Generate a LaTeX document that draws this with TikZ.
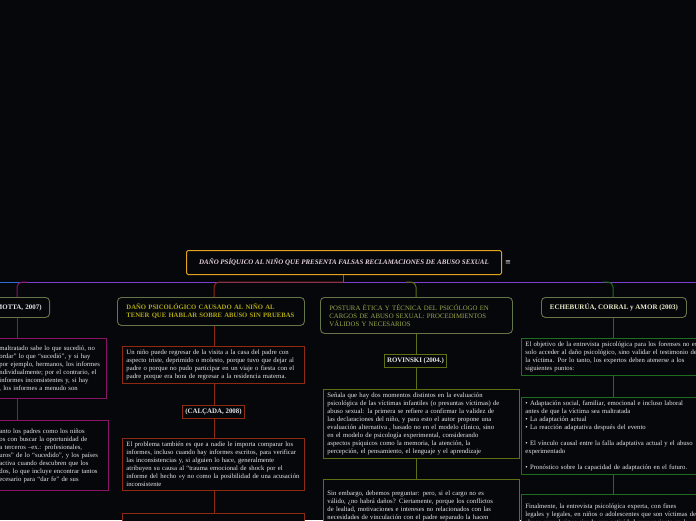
\documentclass[tikz,border=0pt]{standalone}
\usepackage{fontspec}
\setmainfont{Liberation Serif}
\newfontfamily\symfont{DejaVu Sans}
\usetikzlibrary{positioning}

\definecolor{bgc}{HTML}{05070B}
\definecolor{goldc}{HTML}{E0A41C}
\definecolor{violc}{HTML}{7B3FD0}
\definecolor{bluec}{HTML}{2F6BD8}
\definecolor{redc}{HTML}{8E2A12}
\definecolor{magc}{HTML}{8A1466}
\definecolor{olivc}{HTML}{5E6E12}
\definecolor{grnc}{HTML}{1F6E1F}
\definecolor{boxc}{HTML}{66744A}
\definecolor{txtc}{HTML}{E8E6E6}
\definecolor{titc}{HTML}{E6D2DC}

\begin{document}
\begin{tikzpicture}[
  x=1pt,y=-1pt,
  leaf/.style={draw,fill=bgc,line width=0.9pt,anchor=north west,align=left,
    inner xsep=4pt,inner ysep=3.4pt,text=txtc,font=\fontsize{6.7}{8}\selectfont},
  topic/.style={draw=boxc,fill=bgc,rounded corners=4pt,line width=0.9pt,
    anchor=north west,inner ysep=3pt,font=\fontsize{6.8}{8}\selectfont},
  tag/.style={draw,fill=bgc,line width=0.9pt,inner xsep=3pt,inner ysep=0pt,
    minimum height=13pt,text=txtc,font=\bfseries\fontsize{6.9}{7}\selectfont},
  link/.style={line width=0.9pt},
  hub/.style={line width=1pt,rounded corners=5pt}
]
\useasboundingbox (0,0) rectangle (696,520);
\clip (0,0) rectangle (696,520);
\fill[bgc] (0,0) rectangle (696,520);

% ---- column axes ----
\coordinate (cm) at (17,282);
\coordinate (cr) at (214,282);
\coordinate (co) at (416,282);
\coordinate (cg) at (613,282);

% ---- central idea ----
\node[draw=goldc,fill=bgc,line width=1pt,rounded corners=1.5pt,anchor=north west,
      minimum width=315pt,minimum height=24pt,text=titc,
      font=\bfseries\itshape\fontsize{6.9}{8}\selectfont] (root) at (186,250)
  {DAÑO PSÍQUICO AL NIÑO QUE PRESENTA FALSAS RECLAMACIONES DE ABUSO SEXUAL};
\node[text=txtc,font=\symfont\fontsize{7}{7}\selectfont,inner sep=1pt,right=2pt of root] (menu) {≡};

% ---- main line ----
\draw[link,draw=violc] (22,282) -- (696,282);
\draw[link,draw=bluec] (0,282) -- (22,282);
\draw[link,draw=violc] (root.south -| 343,0) -- (343,282);

% ---- branch titles ----
\node[topic,anchor=north east,text width=62pt,align=right,inner xsep=8pt,
      minimum height=20pt,text=txtc,font=\bfseries\fontsize{6.9}{8}\selectfont] (motta) at (50,297)
  {(MOTTA, 2007)};
\node[topic,text width=175pt,inner xsep=6pt,minimum height=28pt,align=left,
      text=olive!75!yellow!90!white,font=\bfseries\fontsize{6.7}{8}\selectfont] (dano) at (117,297)
  {\mbox{\hspace{3pt}DAÑO PSICOLÓGICO CAUSADO AL NIÑO AL}\\
   \mbox{\hspace{3pt}TENER QUE HABLAR SOBRE ABUSO SIN PRUEBAS}};
\node[topic,text width=174pt,inner xsep=9pt,minimum height=36pt,align=left,
      text=boxc!70!yellow!90!white] (postura) at (320,297)
  {POSTURA ÉTICA Y TÉCNICA DEL PSICÓLOGO EN\\CARGOS DE ABUSO SEXUAL: PROCEDIMIENTOS\\VÁLIDOS Y NECESARIOS};
\node[topic,minimum width=145pt,minimum height=20pt,align=center,
      text=txtc!85!yellow,font=\bfseries\fontsize{7}{8}\selectfont] (eche) at (541,297)
  {ECHEBURÚA, CORRAL y AMOR (2003)};

% ---- branch curves ----
\draw[hub,draw=redc] (343,282) -| (dano.north -| cr);
\draw[hub,draw=magc] (27,282) -| (motta.north -| cm);
\draw[hub,draw=olivc] (406,282) -| (postura.north -| co);
\draw[hub,draw=grnc] (603,282) -| (eche.north -| cg);

% ---- left column ----
\node[leaf,draw=magc,text width=104pt,minimum height=60pt,inner xsep=3pt] (lm1) at (-4,338)
  {maltratado sabe lo que sucedió, no\\
   ordar” lo que “sucedió”, y si hay\\
   por ejemplo, hermanos, los informes\\
   ndividualmente; por el contrario, el\\
   informes inconsistentes y, si hay\\
   , los informes a menudo son};
\node[leaf,draw=magc,text width=106pt,minimum height=70pt,inner xsep=3pt] (lm2) at (-4,420)
  {anto los padres como los niños\\
   os con buscar la oportunidad de\\
   a terceros –ex.: profesionales,\\
   uros” de lo “sucedido”, y los países\\
   activa cuando descubren que los\\
   dos, lo que incluye encontrar tantos\\
   ecesario para “dar fe” de sus\\[8pt]};
\draw[link,draw=magc] (motta.south -| cm) -- (lm1.north -| cm);
\draw[link,draw=magc] (lm1.south -| cm) -- (lm2.north -| cm);

% ---- red column ----
\node[leaf,draw=redc,text width=174pt] (ra) at (122,346)
  {Un niño puede regresar de la visita a la casa del padre con\\
   aspecto triste, deprimido o molesto, porque tuvo que dejar al\\
   padre o porque no pudo participar en un viaje o fiesta con el\\
   padre porque era hora de regresar a la residencia materna.};
\node[tag,draw=redc] (calcada) at (213.5,411.5) {(CALÇADA, 2008)};
\node[leaf,draw=redc,text width=174pt] (rb) at (122,438)
  {El problema también es que a nadie le importa comparar los\\
   informes, incluso cuando hay informes escritos, para verificar\\
   las inconsistencias y, si alguien lo hace, generalmente\\
   atribuyen su causa al “trauma emocional de shock por el\\
   informe del hecho »y no como la posibilidad de una acusación\\
   inconsistente};
\node[leaf,draw=redc,text width=174pt,minimum height=40pt] (rc) at (122,513)
  {Los niños, especialmente los de corta edad, desarrollan la};
\draw[link,draw=redc] (dano.south -| cr) -- (ra.north -| cr);
\draw[link,draw=redc] (ra.south -| cr) -- (calcada.north -| cr);
\draw[link,draw=redc] (calcada.south -| cr) -- (rb.north -| cr);
\draw[link,draw=redc] (rb.south -| cr) -- (rc.north -| cr);

% ---- olive column ----
\node[tag,draw=olivc] (rovinski) at (415.5,360.5) {ROVINSKI (2004.)};
\node[leaf,draw=olivc,text width=188pt] (od) at (323,389)
  {Señala que hay dos momentos distintos en la evaluación\\
   psicológica de las víctimas infantiles (o presuntas víctimas) de\\
   abuso sexual: la primera se refiere a confirmar la validez de\\
   las declaraciones del niño, y para esto el autor propone una\\
   evaluación alternativa , basado no en el modelo clínico, sino\\
   en el modelo de psicología experimental, considerando\\
   aspectos psíquicos como la memoria, la atención, la\\
   percepción, el pensamiento, el lenguaje y el aprendizaje};
\node[leaf,draw=olivc,text width=188pt,minimum height=60pt] (oe) at (323,479)
  {Sin embargo, debemos preguntar: pero, si el cargo no es\\
   válido, ¿no habrá daños? Ciertamente, porque los conflictos\\
   de lealtad, motivaciones e intereses no relacionados con las\\
   necesidades de vinculación con el padre separado la hacen\\
   hacer acusaciones infundadas, y esto tiene profundas};
\draw[link,draw=olivc] (postura.south -| co) -- (rovinski.north -| co);
\draw[link,draw=olivc] (rovinski.south -| co) -- (od.north -| co);
\draw[link,draw=olivc] (od.south -| co) -- (oe.north -| co);

% ---- green column ----
\node[leaf,draw=grnc,text width=182pt] (gf) at (521,338)
  {El objetivo de la entrevista psicológica para los forenses no es\\
   solo acceder al daño psicológico, sino validar el testimonio de\\
   la víctima. Por lo tanto, los expertos deben atenerse a los\\
   siguientes puntos:};
\node[leaf,draw=grnc,text width=182pt] (gg) at (521,397)
  {• Adaptación social, familiar, emocional e incluso laboral\\
   antes de que la víctima sea maltratada\\
   • La adaptación actual\\
   • La reacción adaptativa después del evento\\[8pt]
   • El vínculo causal entre la falla adaptativa actual y el abuso\\
   experimentado\\[8pt]
   • Pronóstico sobre la capacidad de adaptación en el futuro.};
\node[leaf,draw=grnc,text width=182pt,minimum height=40pt] (gh) at (521,494)
  {Finalmente, la entrevista psicológica experta, con fines\\
   legales y legales, en niños o adolescentes que son víctimas de\\
   abuso sexual sigue siendo una actividad muy reciente en la};
\draw[link,draw=grnc] (eche.south -| cg) -- (gf.north -| cg);
\draw[link,draw=grnc] (gf.south -| cg) -- (gg.north -| cg);
\draw[link,draw=grnc] (gg.south -| cg) -- (gh.north -| cg);

\end{tikzpicture}
\end{document}
